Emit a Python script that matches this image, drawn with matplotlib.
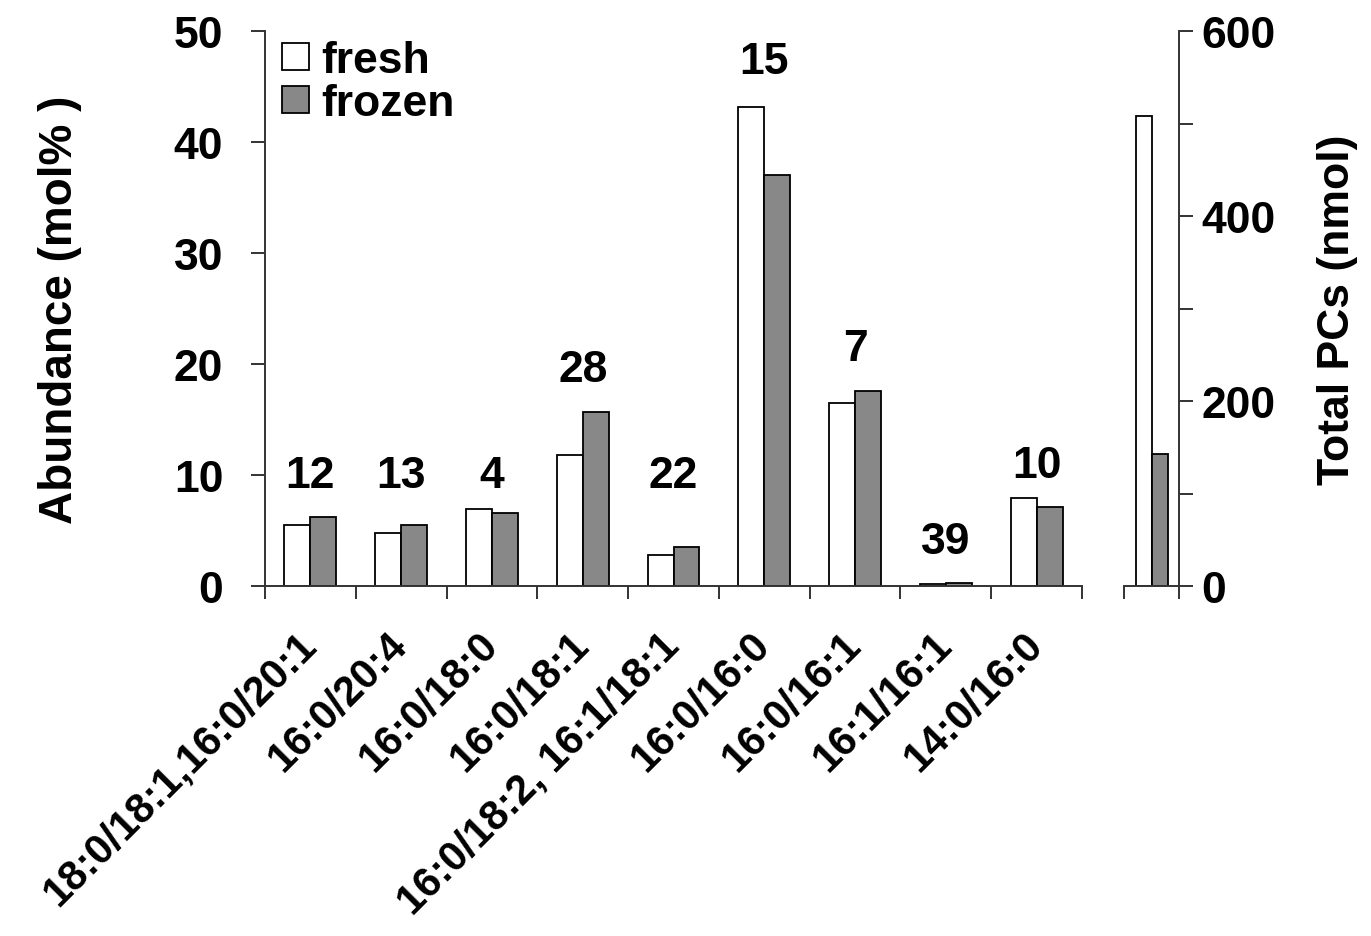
import matplotlib.pyplot as plt
import numpy as np

plt.rcParams['font.family'] = ['Liberation Sans', 'DejaVu Sans']
plt.rcParams['font.weight'] = 'bold'

# species and abundances (mol%)
species = ['18:0/18:1,16:0/20:1', '16:0/20:4', '16:0/18:0', '16:0/18:1',
           '16:0/18:2, 16:1/18:1', '16:0/16:0', '16:0/16:1', '16:1/16:1', '14:0/16:0']
fresh = [5.5, 4.8, 6.9, 11.8, 2.8, 43.2, 16.5, 0.2, 7.9]
frozen = [6.2, 5.5, 6.6, 15.7, 3.5, 37.0, 17.6, 0.3, 7.1]
numbers = ['12', '13', '4', '28', '22', '15', '7', '39', '10']
number_y = [10.0, 10.0, 10.0, 19.5, 10.0, 47.3, 21.4, 4.05, 10.9]

# total PCs (nmol)
total_fresh = 508
total_frozen = 143

GRAY = '#888888'
SPINE = '#333333'
FS = 32
w = 0.286

fig = plt.figure(figsize=(13.71, 9.37), dpi=100)
ax = fig.add_axes([0.1933, 0.3735, 0.5959, 0.5923])
x = np.arange(len(species))
ax.bar(x - w / 2, fresh, w, color='white', edgecolor='black', linewidth=1.3, label='fresh')
ax.bar(x + w / 2, frozen, w, color=GRAY, edgecolor='black', linewidth=1.3, label='frozen')

for xi, txt, yi in zip(x, numbers, number_y):
    ax.text(xi, yi, txt, ha='center', va='center', fontsize=FS, fontweight='bold')

ax.set_xlim(-0.5, len(species) - 0.5)
ax.set_ylim(0, 50)
ax.set_yticks([0, 10, 20, 30, 40, 50])
ax.tick_params(axis='y', labelsize=FS, length=10, width=1.4, direction='out', pad=20, color=SPINE)
ax.set_xticks(np.arange(len(species) + 1) - 0.5)
ax.set_xticklabels([])
ax.set_xticks(x, minor=True)
ax.set_xticklabels(species, minor=True, rotation=45, ha='right', va='center',
                   rotation_mode='anchor', fontsize=30)
ax.tick_params(axis='x', which='major', length=9, width=1.4, direction='out', color=SPINE)
ax.tick_params(axis='x', which='minor', length=0, pad=38)
for s in ['top', 'right']:
    ax.spines[s].set_visible(False)
for s in ['left', 'bottom']:
    ax.spines[s].set_linewidth(1.4)
    ax.spines[s].set_color(SPINE)
ax.set_ylabel('Abundance (mol% )', fontsize=33, fontweight='bold', labelpad=66)

leg = ax.legend(loc='upper left', bbox_to_anchor=(-0.017, 1.04), frameon=False, fontsize=FS,
                handlelength=0.6, handleheight=0.55, handletextpad=0.27, labelspacing=0.05,
                borderaxespad=0.3)

# total PCs panel
ax2 = fig.add_axes([0.8198, 0.3735, 0.0401, 0.5923])
ax2.bar([-w / 2], [total_fresh], w, color='white', edgecolor='black', linewidth=1.3)
ax2.bar([w / 2], [total_frozen], w, color=GRAY, edgecolor='black', linewidth=1.3)
ax2.set_xlim(-0.508, 0.49)
ax2.set_ylim(0, 600)
ax2.yaxis.tick_right()
ax2.yaxis.set_label_position('right')
ax2.set_yticks([0, 200, 400, 600])
ax2.set_yticks([100, 300, 500], minor=True)
ax2.tick_params(axis='y', which='both', labelsize=FS, length=10, width=1.4, direction='out',
                pad=6, color=SPINE)
ax2.set_xticks([-0.508, 0.49])
ax2.set_xticklabels([])
ax2.tick_params(axis='x', length=9, width=1.4, direction='out', color=SPINE)
for s in ['top', 'left']:
    ax2.spines[s].set_visible(False)
for s in ['right', 'bottom']:
    ax2.spines[s].set_linewidth(1.4)
    ax2.spines[s].set_color(SPINE)
ax2.set_ylabel('Total PCs (nmol)', fontsize=FS, fontweight='bold', labelpad=30)

fig.savefig('out.png', dpi=100)
